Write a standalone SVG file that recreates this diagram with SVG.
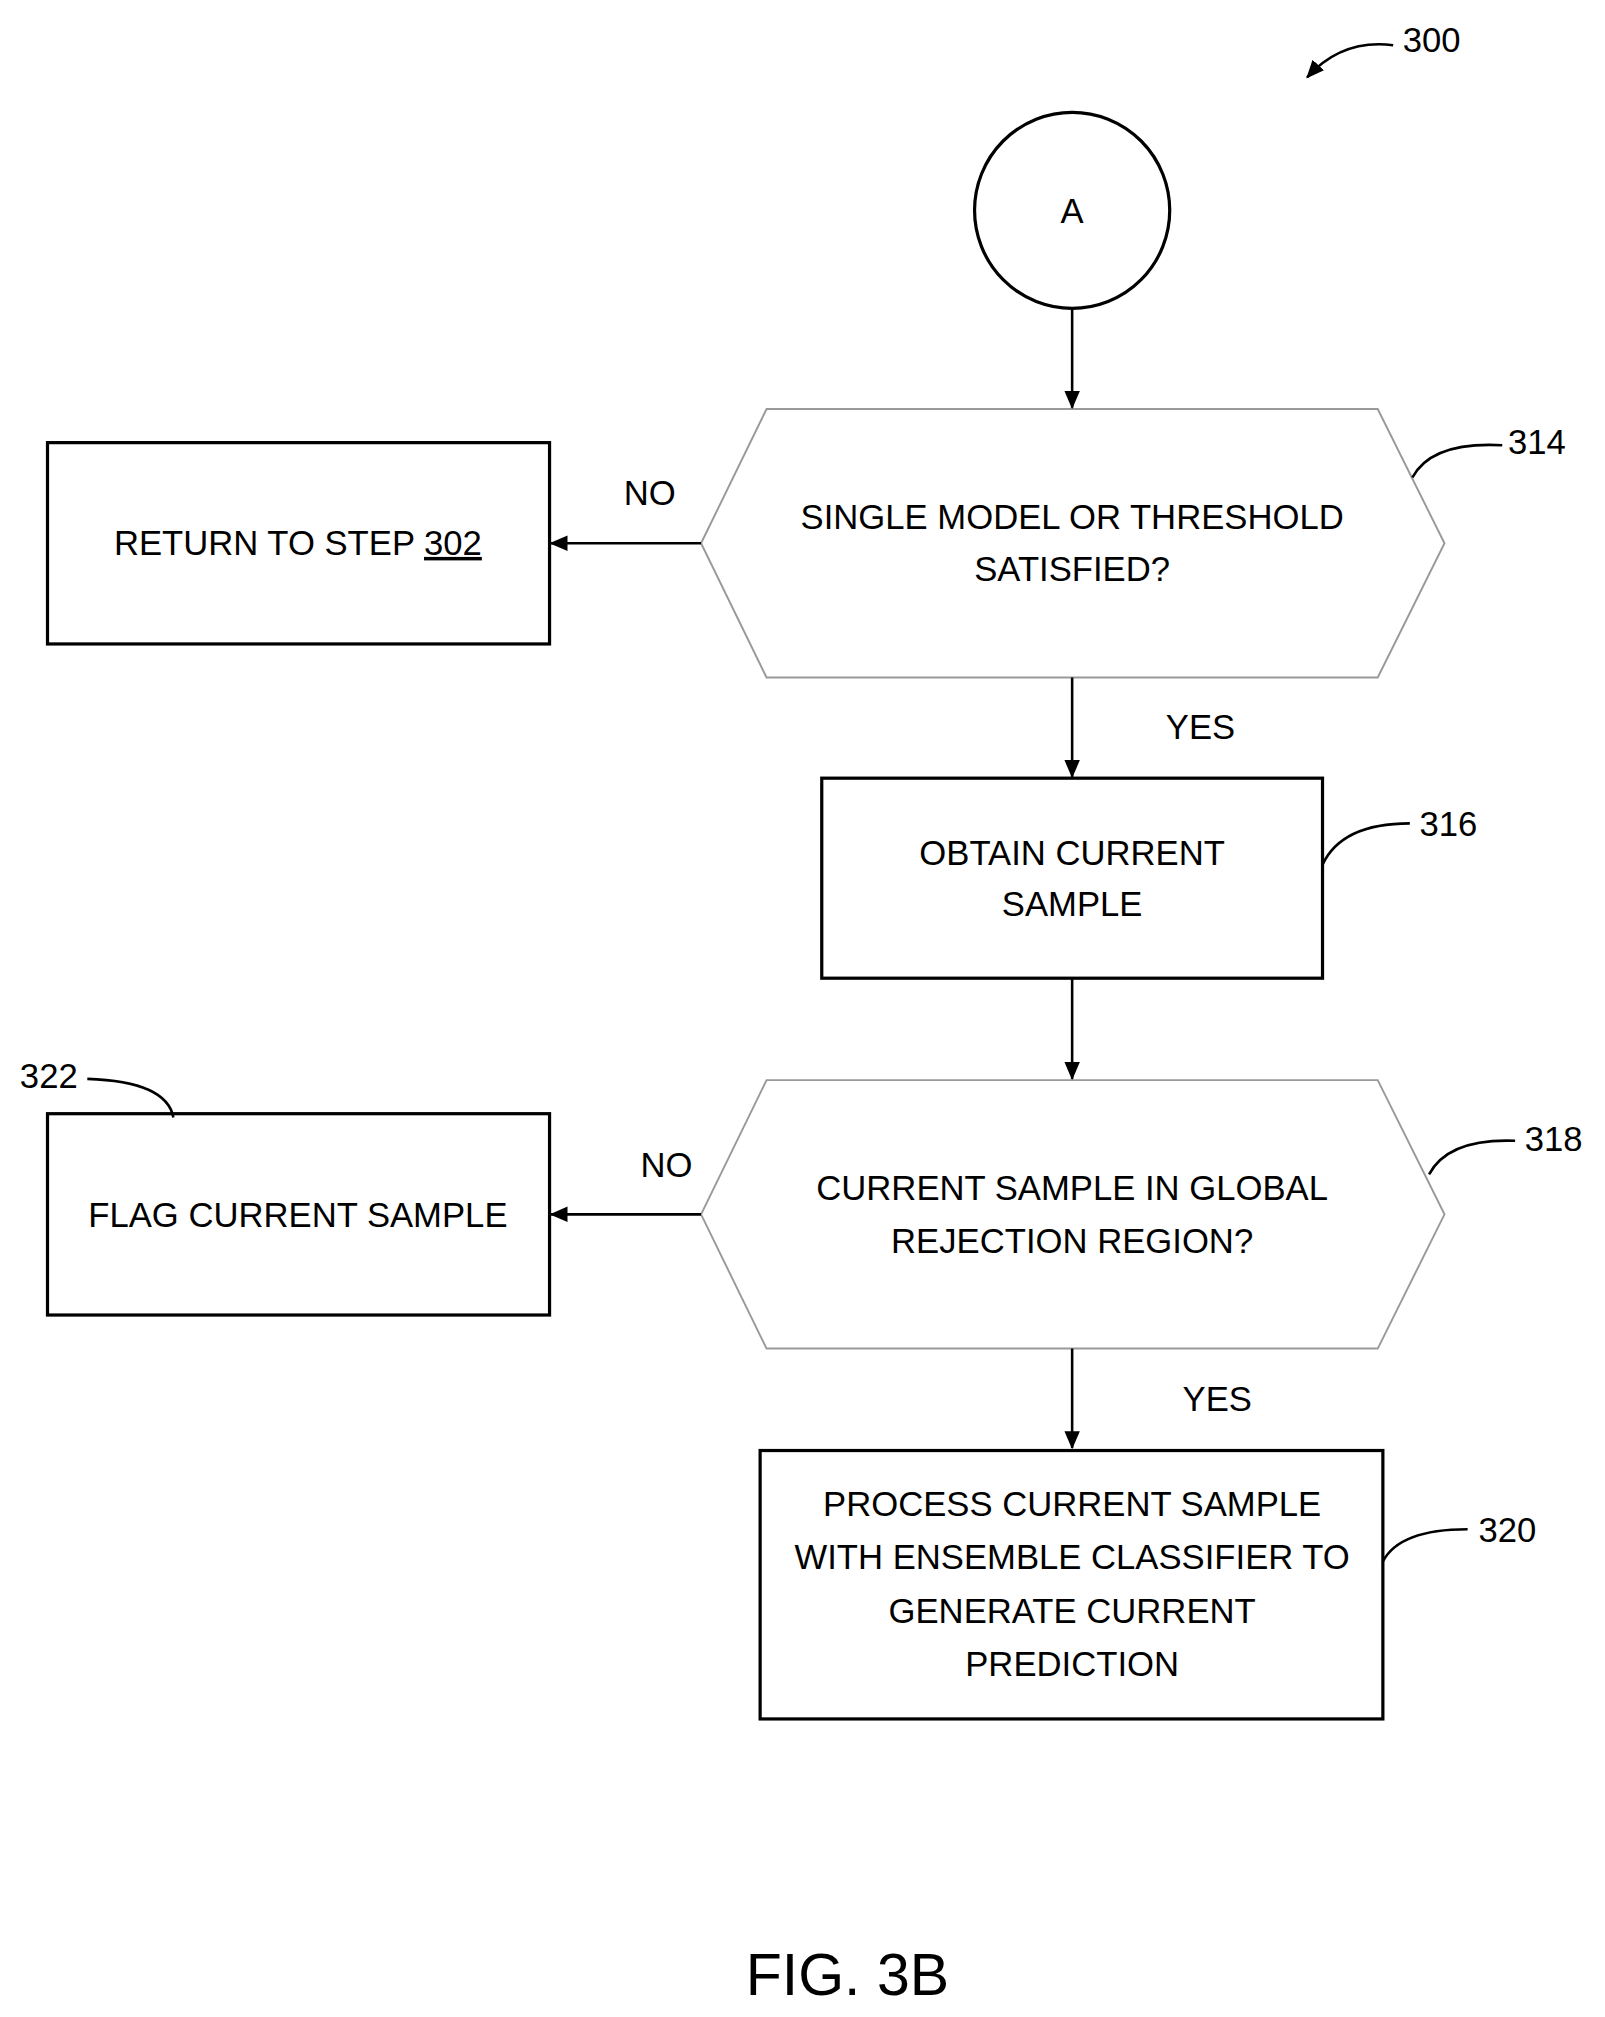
<svg xmlns="http://www.w3.org/2000/svg" width="1605" height="2017" viewBox="0 0 1605 2017">
<defs>
<marker id="ah" markerWidth="14" markerHeight="14" refX="13" refY="7" orient="auto" markerUnits="userSpaceOnUse" viewBox="0 0 14 14"><path d="M0,1 L14,7 L0,13 z" fill="#000"/></marker>
<style>
.s{fill:#fff;stroke:#000;stroke-width:2.5}
.h{fill:#fff;stroke:#999;stroke-width:1.5}
.t{font-family:"Liberation Sans",Arial,sans-serif;font-size:27px;text-anchor:middle;fill:#000}
.l{fill:none;stroke:#000;stroke-width:2}
.c{fill:none;stroke:#000;stroke-width:2;marker-end:url(#ah)}
</style>
</defs>
<rect width="1605" height="2017" fill="#fff"/>
<g transform="scale(1.284,1.2905)">
<g id="nA"><circle class="s" cx="835" cy="163" r="76"/><text class="t" x="835" y="173">A</text></g>
<g id="n314"><polygon class="h" points="546,421 597,317 1073,317 1125,421 1073,525 597,525"/>
<text class="t" x="835" y="410">SINGLE MODEL OR THRESHOLD</text><text class="t" x="835" y="450">SATISFIED?</text>
<text class="t" x="1197" y="352">314</text><path class="l" d="M1100,370 Q1115,342 1170,345"/></g>
<g id="n302"><rect class="s" x="37" y="343" width="391" height="156"/>
<text class="t" x="232" y="430">RETURN TO STEP <tspan text-decoration="underline">302</tspan></text></g>
<g id="n316"><rect class="s" x="640" y="603" width="390" height="155"/>
<text class="t" x="835" y="670">OBTAIN CURRENT</text><text class="t" x="835" y="710">SAMPLE</text>
<text class="t" x="1128" y="648">316</text><path class="l" d="M1030,670 Q1045,638 1098,638"/></g>
<g id="n318"><polygon class="h" points="546,941 597,837 1073,837 1125,941 1073,1045 597,1045"/>
<text class="t" x="835" y="930">CURRENT SAMPLE IN GLOBAL</text><text class="t" x="835" y="971">REJECTION REGION?</text>
<text class="t" x="1210" y="892">318</text><path class="l" d="M1113,910 Q1128,882 1180,884"/></g>
<g id="n322"><rect class="s" x="37" y="863" width="391" height="156"/>
<text class="t" x="232" y="951">FLAG CURRENT SAMPLE</text>
<text class="t" x="38" y="843">322</text><path class="l" d="M68,836 Q130,838 135,866"/></g>
<g id="n320"><rect class="s" x="592" y="1124" width="485" height="208"/>
<text class="t" x="835" y="1175">PROCESS CURRENT SAMPLE</text><text class="t" x="835" y="1216">WITH ENSEMBLE CLASSIFIER TO</text>
<text class="t" x="835" y="1258">GENERATE CURRENT</text><text class="t" x="835" y="1299">PREDICTION</text>
<text class="t" x="1174" y="1195">320</text><path class="l" d="M1077,1210 Q1090,1185 1143,1185"/></g>
<g id="connectors">
<path class="c" d="M835,240 V316"/>
<path class="c" d="M546,421 H429"/>
<path class="c" d="M835,525 V602"/>
<path class="c" d="M835,758 V836"/>
<path class="c" d="M546,941 H429"/>
<path class="c" d="M835,1045 V1122"/>
<path class="c" d="M1085,35 Q1045,30 1018,60"/>
<text class="t" x="506" y="391">NO</text><text class="t" x="935" y="573">YES</text>
<text class="t" x="519" y="912">NO</text><text class="t" x="948" y="1093">YES</text>
</g>
<text class="t" x="1115" y="40">300</text>
<text class="t" x="660" y="1546" style="font-size:46px">FIG. 3B</text>
</g>
</svg>
